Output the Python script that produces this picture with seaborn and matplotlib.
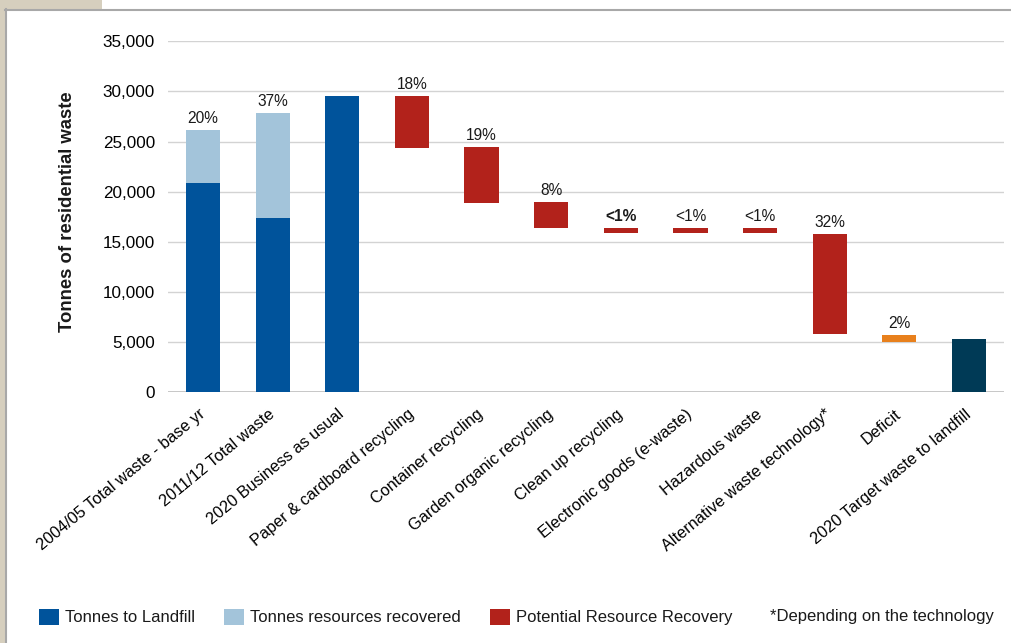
import matplotlib
matplotlib.use("Agg")
import matplotlib.pyplot as plt
from matplotlib.patches import Patch, Rectangle
from matplotlib.lines import Line2D
from matplotlib.ticker import StrMethodFormatter
import seaborn as sns

# ---- data (tonnes of residential waste) ----
categories = [
    "2004/05 Total waste - base yr",
    "2011/12 Total waste",
    "2020 Business as usual",
    "Paper & cardboard recycling",
    "Container recycling",
    "Garden organic recycling",
    "Clean up recycling",
    "Electronic goods (e-waste)",
    "Hazardous waste",
    "Alternative waste technology*",
    "Deficit",
    "2020 Target waste to landfill",
]

# stacked totals
stack_cats = categories[:3]
landfill_t = [20900, 17400, 29500]
recovered_t = [5250, 10500, 0]

# floating recovery steps
recovery_cats = categories[3:10]
recovery_top = [29500, 24500, 19000, 16400, 16400, 16400, 15800]
recovery_bottom = [24400, 18900, 16350, 15850, 15850, 15850, 5800]

deficit_cat = categories[10]
deficit_top = 5750
deficit_bottom = 5000

target_cat = categories[11]
target_t = 5350

pct_labels = ["20%", "37%", "", "18%", "19%", "8%", "<1%", "<1%", "<1%", "32%", "2%", ""]
bold_labels = {6}

legend_labels = ["Tonnes to Landfill", "Tonnes resources recovered", "Potential Resource Recovery"]
note_text = "*Depending on the technology"

# ---- style ----
C_LANDFILL = "#00539B"
C_RECOVERED = "#A3C4DA"
C_POTENTIAL = "#B2221B"
C_DEFICIT = "#E8801C"
C_TARGET = "#003A56"

plt.rcParams["font.family"] = ["Liberation Sans", "DejaVu Sans"]
plt.rcParams["text.color"] = "#1a1a1a"

W, H = 1011, 643
fig = plt.figure(figsize=(W / 100, H / 100), dpi=100)
fig.patch.set_facecolor("white")

ax = fig.add_axes([168.2 / W, (H - 392.3) / H, 835.6 / W, 351.0 / H])
ax.set_facecolor("white")

BAR_W = 0.49


def draw_bar(cat, lo, hi, color):
    sns.barplot(x=[cat], y=[hi - lo], order=categories, bottom=lo,
                color=color, saturation=1, width=BAR_W, ax=ax,
                linewidth=0, zorder=3)


tops = {}
for cat, lf, rc in zip(stack_cats, landfill_t, recovered_t):
    draw_bar(cat, 0, lf, C_LANDFILL)
    if rc > 0:
        draw_bar(cat, lf, lf + rc, C_RECOVERED)
    tops[cat] = lf + rc

for cat, hi, lo in zip(recovery_cats, recovery_top, recovery_bottom):
    draw_bar(cat, lo, hi, C_POTENTIAL)
    tops[cat] = hi

draw_bar(deficit_cat, deficit_bottom, deficit_top, C_DEFICIT)
tops[deficit_cat] = deficit_top

draw_bar(target_cat, 0, target_t, C_TARGET)
tops[target_cat] = target_t

# percentage labels above bars
for i, (cat, lab) in enumerate(zip(categories, pct_labels)):
    if not lab:
        continue
    ax.annotate(lab, (i, tops[cat]), xytext=(0, 7), textcoords="offset pixels",
                ha="center", va="baseline", fontsize=11.2,
                fontweight="bold" if i in bold_labels else "normal")

# axes cosmetics
ax.set_xlim(-0.5, len(categories) - 0.5)
ax.set_ylim(0, 35000)
ax.set_yticks(range(0, 35001, 5000))
ax.yaxis.set_major_formatter(StrMethodFormatter("{x:,.0f}"))
ax.set_axisbelow(True)
ax.yaxis.grid(True, color="#d3d3d3", linewidth=1.0)
ax.xaxis.grid(False)
ax.axhline(0, color="#c4c4c4", linewidth=1.3, zorder=2)
for s in ax.spines.values():
    s.set_visible(False)
ax.tick_params(axis="y", length=0, pad=9.5, labelsize=12.3)
ax.tick_params(axis="x", length=0, pad=14.5, labelsize=11.7)
ax.set_xticks(range(len(categories)))
ax.set_xticklabels(categories, rotation=39.5, ha="right", va="center",
                   rotation_mode="anchor")
ax.set_xlabel("")
ax.set_ylabel("")

fig.text(68 / W, 1 - 212 / H, "Tonnes of residential waste", rotation=90,
         ha="center", va="center", fontsize=13.3, fontweight="bold")

# legend
handles = [Patch(facecolor=c, edgecolor="none") for c in (C_LANDFILL, C_RECOVERED, C_POTENTIAL)]
fig.legend(handles, legend_labels, loc="center left",
           bbox_to_anchor=(39 / W, 1 - 617 / H), ncol=3, frameon=False,
           fontsize=12, handlelength=1.2, handleheight=1.15,
           handletextpad=0.36, columnspacing=1.74, borderpad=0,
           borderaxespad=0)
fig.text(770 / W, 1 - 617 / H, note_text, ha="left", va="center", fontsize=12)

# page frame
beige = "#D6CFBE"
fig.patches.append(Rectangle((0, 0), 5 / W, 1, transform=fig.transFigure,
                             facecolor=beige, edgecolor="none", zorder=0))
fig.patches.append(Rectangle((0, 1 - 9 / H), 102 / W, 9 / H, transform=fig.transFigure,
                             facecolor=beige, edgecolor="none", zorder=0))
fig.lines.append(Line2D([6 / W, 6 / W], [0, 1 - 9 / H], transform=fig.transFigure,
                        color="#A8A8A8", linewidth=1.5))
fig.lines.append(Line2D([5 / W, 1], [1 - 9.5 / H, 1 - 9.5 / H], transform=fig.transFigure,
                        color="#A8A8A8", linewidth=1.5))

fig.savefig("out.png", dpi=100, facecolor="white")
